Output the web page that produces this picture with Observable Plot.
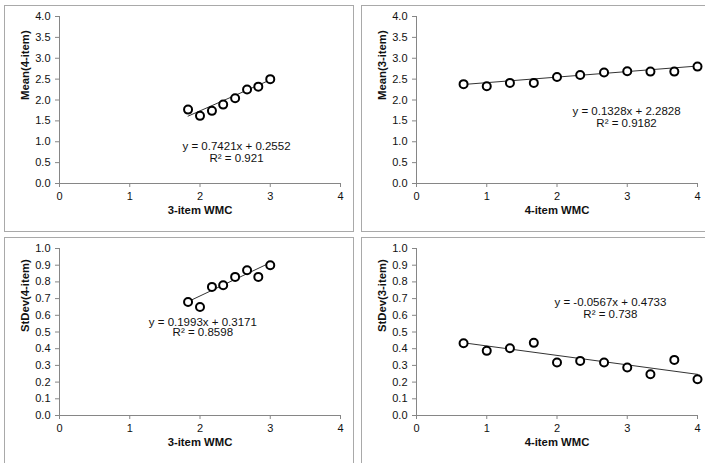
<!DOCTYPE html>
<html><head><meta charset="utf-8">
<script src="https://cdn.jsdelivr.net/npm/d3@7"></script>
<script src="https://cdn.jsdelivr.net/npm/@observablehq/plot@0.6"></script>
<style>
body{margin:0;background:#fff;}
#wrap{position:relative;width:705px;height:463px;overflow:hidden;background:#fff;font-family:"Liberation Sans",Arial,sans-serif;}
.box{position:absolute;border:1px solid #a9a9a9;box-sizing:border-box;}
.plot{position:absolute;width:350px;height:227px;}
.plot svg{overflow:visible;max-width:none !important;width:350px;height:227px;}
</style></head><body><div id="wrap"></div>
<script>
// x values (WMC)
const wmc3 = [1.83, 2.0, 2.17, 2.33, 2.5, 2.67, 2.83, 3.0];
const wmc4 = [0.67, 1.0, 1.33, 1.67, 2.0, 2.33, 2.67, 3.0, 3.33, 3.67, 4.0];
// y values
const mean4 = [1.77, 1.62, 1.74, 1.89, 2.04, 2.25, 2.32, 2.50];
const mean3 = [2.38, 2.33, 2.41, 2.41, 2.55, 2.60, 2.66, 2.69, 2.68, 2.68, 2.80];
const sd4 = [0.68, 0.65, 0.77, 0.78, 0.83, 0.87, 0.83, 0.90];
const sd3 = [0.433, 0.387, 0.403, 0.435, 0.317, 0.327, 0.317, 0.287, 0.247, 0.333, 0.217];
// ticks
const xTicks = [0, 1, 2, 3, 4];
const meanTicks = [0, 0.5, 1, 1.5, 2, 2.5, 3, 3.5, 4];
const sdTicks = [0, 0.1, 0.2, 0.3, 0.4, 0.5, 0.6, 0.7, 0.8, 0.9, 1.0];
// trend lines
const slopes = [0.7421, 0.1328, 0.1993, -0.0567];
const intercepts = [0.2552, 2.2828, 0.3171, 0.4733];
const eqLabels = ["y = 0.7421x + 0.2552", "y = 0.1328x + 2.2828", "y = 0.1993x + 0.3171", "y = -0.0567x + 0.4733"];
const r2Labels = ["R² = 0.921", "R² = 0.9182", "R² = 0.8598", "R² = 0.738"];
const xLabels = ["3-item WMC", "4-item WMC", "3-item WMC", "4-item WMC"];
const yLabels = ["Mean(4-item)", "Mean(3-item)", "StDev(4-item)", "StDev(3-item)"];

const panels = [
  {left: 4, top: 5, xs: wmc3, ys: mean4, yMax: 4, yTicks: meanTicks, eqX: 2.52, eqY: [0.893, 0.606]},
  {left: 361, top: 5, xs: wmc4, ys: mean3, yMax: 4, yTicks: meanTicks, eqX: 2.99, eqY: [1.74, 1.447]},
  {left: 4, top: 237, xs: wmc3, ys: sd4, yMax: 1, yTicks: sdTicks, eqX: 2.04, eqY: [0.56, 0.496]},
  {left: 361, top: 237, xs: wmc4, ys: sd3, yMax: 1, yTicks: sdTicks, eqX: 2.76, eqY: [0.68, 0.603]}
];

const wrap = document.getElementById("wrap");
const W = 350, H = 227;
panels.forEach((p, i) => {
  const box = document.createElement("div");
  box.className = "box";
  box.style.left = p.left + "px"; box.style.top = p.top + "px";
  box.style.width = W + "px"; box.style.height = H + "px";
  wrap.appendChild(box);

  const pts = p.xs.map((x, j) => ({x, y: p.ys[j]}));
  const ext = d3.extent(p.xs);
  const chart = Plot.plot({
    width: W, height: H,
    marginLeft: 55, marginRight: 14, marginTop: 11, marginBottom: 49,
    style: {fontFamily: "'Liberation Sans', Arial, sans-serif", background: "transparent", overflow: "visible"},
    x: {domain: [0, 4], nice: false},
    y: {domain: [0, p.yMax], nice: false},
    marks: [
      Plot.ruleY([0], {stroke: "#868686"}),
      Plot.ruleX([0], {stroke: "#868686"}),
      Plot.axisX({ticks: xTicks, tickSize: 4, tickPadding: 5, stroke: "#868686", fill: "#111", fontSize: 11, label: null, tickFormat: d3.format("d")}),
      Plot.axisY({ticks: p.yTicks, tickSize: 4, tickPadding: 5, stroke: "#868686", fill: "#111", fontSize: 11, label: null, tickFormat: d3.format(".1f")}),
      Plot.line(ext, {x: d => d, y: d => slopes[i] * d + intercepts[i], stroke: "#333", strokeWidth: 1}),
      Plot.dot(pts, {x: "x", y: "y", r: 4, stroke: "#000", strokeWidth: 2, fill: "#fff"}),
      Plot.text([eqLabels[i]], {x: () => p.eqX, y: () => p.eqY[0], fontSize: 11.5, fill: "#111"}),
      Plot.text([r2Labels[i]], {x: () => p.eqX, y: () => p.eqY[1], fontSize: 11.5, fill: "#111"}),
      Plot.text([xLabels[i]], {frameAnchor: "bottom", dy: 30, fontSize: 11.3, fontWeight: "bold", fill: "#111"}),
      Plot.text([yLabels[i]], {frameAnchor: "left", dx: -34, rotate: -90, fontSize: 11.3, fontWeight: "bold", fill: "#111"})
    ]
  });
  const holder = document.createElement("div");
  holder.className = "plot";
  holder.style.left = p.left + "px"; holder.style.top = p.top + "px";
  holder.appendChild(chart);
  wrap.appendChild(holder);
});
</script>
</body></html>
